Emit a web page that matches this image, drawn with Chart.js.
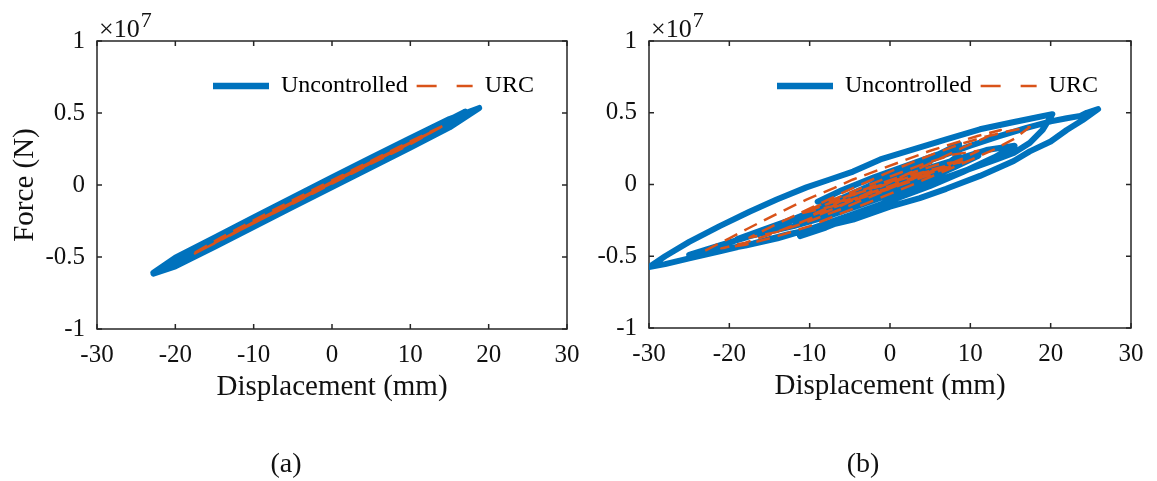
<!DOCTYPE html>
<html><head><meta charset="utf-8">
<script src="https://cdn.jsdelivr.net/npm/chart.js@4.4.1/dist/chart.umd.min.js"></script>
<style>
html,body{margin:0;padding:0;background:#fff;width:1157px;height:481px;overflow:hidden;position:relative;}
canvas{position:absolute;top:0;}
#ca{left:0;} #cb{left:580px;}
.cap{position:absolute;top:446px;font-family:"Liberation Serif";font-size:28px;color:#111;width:100px;text-align:center;line-height:34px;}
</style></head><body>
<canvas id="ca" width="580" height="481"></canvas>
<canvas id="cb" width="577" height="481"></canvas>
<div class="cap" style="left:236px">(a)</div>
<div class="cap" style="left:813px">(b)</div>
<script>
// ---- text / ticks ----
const seriesNames = ['Uncontrolled', 'URC'];
const xTitle = 'Displacement (mm)';
const yTitle = 'Force (N)';
const exponentBase = '\u00D710';
const exponentPower = '7';
const xTicks = [-30, -20, -10, 0, 10, 20, 30];
const xTickLabels = ['-30', '-20', '-10', '0', '10', '20', '30'];
const yTicks = [-1, -0.5, 0, 0.5, 1];
const yTickLabels = ['-1', '-0.5', '0', '0.5', '1'];

// ---- panel (a): displacement (mm) / force (x10^7 N) ----
const aUncX = [-22.8,-20,-15,-10,-5,0,5,10,15,18.8,15,10,5,0,-5,-10,-15,-20,-22.8,
  -20.5,-17,-12,-6,0,6,12,17,12,6,0,-6,-12,-17,-20.5,
  -16,-10,-4,2,8,13,8,2,-4,-10,-16,
  -11,-5,1,6,9,5,0,-6,-11];
const aUncY = [-0.61,-0.505,-0.365,-0.225,-0.087,0.052,0.19,0.325,0.458,0.535,0.40,0.26,0.122,-0.015,-0.152,-0.29,-0.43,-0.565,-0.615,
  -0.55,-0.45,-0.31,-0.145,0.04,0.205,0.37,0.51,0.33,0.165,-0.005,-0.175,-0.34,-0.475,-0.56,
  -0.43,-0.255,-0.09,0.085,0.25,0.385,0.225,0.06,-0.115,-0.28,-0.435,
  -0.29,-0.12,0.05,0.19,0.275,0.15,0.01,-0.15,-0.295];
const aUrcX = [-17.5,-14,-10,-5,0,5,10,14.5,10,5,0,-5,-10,-14,-17.5,
  -15,-10,-5,0,5,10,13,10,5,0,-5,-10,-13,
  -8,-3,2,7,11,6,1,-4,-9,-12,
  -6,0,6,9,4,-2,-7];
const aUrcY = [-0.47,-0.36,-0.245,-0.105,0.033,0.168,0.303,0.42,0.283,0.148,0.01,-0.13,-0.265,-0.375,-0.475,
  -0.405,-0.258,-0.118,0.022,0.16,0.295,0.375,0.29,0.152,0.015,-0.125,-0.262,-0.35,
  -0.205,-0.065,0.075,0.21,0.318,0.182,0.042,-0.098,-0.238,-0.32,
  -0.15,0.02,0.185,0.265,0.125,-0.04,-0.18];

// ---- panel (b) ----
const bUncX = [-11.2,-8,-4,0,4,8,11,13.5,15.4,17.4,19,20.2,
  18.5,15,11.2,7,2.9,-1.2,-4.6,-7.5,-10.4,-14.1,-17.5,-21.2,-25,-28,-30,
  -28,-25,-21.2,-17,-12.9,-8,-4.6,0,3.7,7,11.2,15.4,17.4,20,22,24,25.9,
  24.5,23.7,22,20,17,13.5,10,6,2,-2,-6,-10,-14,-18,-21,-25,
  -22,-18,-14,-10,-5,0,5,9,13,15.5,
  12,8,4,0,-4,-8,-12,-16,-19,
  -16,-12,-8,-4,0,4,8,11,
  8,4,0,-4,-8,-12,
  -10,-6,-2,2,6,8.5,8.6,
  6,2,-2,-6,-9,
  -6,-2,2,5,2,-2,-5];
const bUncY = [-0.36,-0.3,-0.21,-0.11,-0.01,0.07,0.13,0.18,0.22,0.29,0.38,0.49,
  0.47,0.43,0.385,0.315,0.245,0.175,0.09,0.035,-0.02,-0.105,-0.19,-0.29,-0.4,-0.5,-0.575,
  -0.555,-0.515,-0.465,-0.41,-0.35,-0.29,-0.245,-0.155,-0.095,-0.03,0.06,0.164,0.231,0.3,0.38,0.45,0.525,
  0.5,0.478,0.462,0.44,0.395,0.335,0.27,0.19,0.1,0.005,-0.095,-0.195,-0.29,-0.37,-0.42,-0.49,
  -0.465,-0.425,-0.375,-0.31,-0.215,-0.115,-0.01,0.085,0.19,0.27,
  0.24,0.17,0.1,0.02,-0.065,-0.15,-0.24,-0.32,-0.38,
  -0.34,-0.29,-0.225,-0.15,-0.07,0.02,0.12,0.2,
  0.16,0.09,0.01,-0.075,-0.16,-0.25,
  -0.22,-0.155,-0.08,0.0,0.1,0.2,0.28,
  0.21,0.13,0.05,-0.04,-0.12,
  -0.11,-0.04,0.04,0.11,0.07,-0.01,-0.07];
const bUrcX = [-23,-20,-17.8,-14.1,-10.4,-7,-4.6,-1,2.1,5,8.7,11,13.8,
  12,9,6,3,0,-3,-6,-9,-12,-15,-18,-21,
  -18,-14,-10,-6,-2,2,6,10,13,15.5,17.4,
  15,12,9,6,3,0,-3,-6,-9,-12,-15,-17.5,
  -14,-10,-6,-2,2,6,9,11,
  8,4,0,-4,-8,-11,
  -7,-3,1,5,8,6,2,-2,-6,-8,
  -4,0,4,7,4,0,-4,
  -10,-5,0,5,9,5,0,-5,-10];
const bUrcY = [-0.46,-0.375,-0.31,-0.205,-0.105,-0.025,0.035,0.11,0.175,0.235,0.3,0.34,0.38,
  0.33,0.255,0.175,0.095,0.015,-0.065,-0.145,-0.215,-0.285,-0.35,-0.405,-0.445,
  -0.42,-0.36,-0.29,-0.2,-0.11,-0.02,0.075,0.17,0.245,0.32,0.4,
  0.375,0.335,0.285,0.225,0.16,0.09,0.015,-0.06,-0.14,-0.22,-0.3,-0.37,
  -0.33,-0.255,-0.17,-0.075,0.02,0.11,0.18,0.235,
  0.21,0.14,0.055,-0.035,-0.125,-0.2,
  -0.15,-0.07,0.01,0.09,0.155,0.14,0.07,-0.01,-0.095,-0.14,
  -0.09,-0.02,0.06,0.12,0.08,0.01,-0.06,
  -0.22,-0.12,-0.03,0.07,0.16,0.1,0.02,-0.08,-0.18];

// ---- styling ----
const BLUE = '#0072BD', ORANGE = '#D95319', AXIS = '#262626';
const FONT = 'Liberation Serif';
Chart.defaults.font.family = FONT;

const pts = (xs, ys) => xs.map((x, i) => ({x: x, y: ys[i]}));

const framePlugin = {
  id: 'frame',
  afterLayout(chart, args, opts) {
    const lg = chart.legend;
    if (!lg) return;
    const pad = lg.options.labels.padding;
    lg.left = opts.legendX - pad;
    lg.right = chart.width;
    lg.top = opts.legendY - pad - 12;
    lg.bottom = lg.top + 60;
    lg.width = lg.right - lg.left;
    lg.height = 60;
  },
  beforeDatasetsDraw(chart) {
    const {ctx, chartArea: a, scales} = chart;
    const xs = scales.x, ys = scales.y;
    ctx.save();
    ctx.strokeStyle = AXIS;
    ctx.lineWidth = 1.5;
    ctx.strokeRect(a.left, a.top, a.right - a.left, a.bottom - a.top);
    ctx.beginPath();
    const L = 5;
    xs.ticks.forEach(t => {
      const p = xs.getPixelForValue(t.value);
      ctx.moveTo(p, a.bottom); ctx.lineTo(p, a.bottom - L);
      ctx.moveTo(p, a.top); ctx.lineTo(p, a.top + L);
    });
    ys.ticks.forEach(t => {
      const p = ys.getPixelForValue(t.value);
      ctx.moveTo(a.left, p); ctx.lineTo(a.left + L, p);
      ctx.moveTo(a.right, p); ctx.lineTo(a.right - L, p);
    });
    ctx.stroke();
    ctx.fillStyle = '#111';
    ctx.textBaseline = 'alphabetic';
    ctx.textAlign = 'left';
    ctx.font = '26px "' + FONT + '"';
    ctx.fillText(exponentBase, a.left + 2, 37);
    const w = ctx.measureText(exponentBase).width;
    ctx.font = '22px "' + FONT + '"';
    ctx.fillText(exponentPower, a.left + 2 + w + 1, 27);
    ctx.restore();
  }
};

function makeChart(id, uncX, uncY, urcX, urcY, cfg) {
  return new Chart(document.getElementById(id), {
    type: 'scatter',
    data: {
      datasets: [
        {label: seriesNames[0], data: pts(uncX, uncY), showLine: true, borderColor: BLUE, backgroundColor: BLUE,
         borderWidth: 6, pointRadius: 0, pointHoverRadius: 0, pointStyle: 'line', tension: 0,
         borderJoinStyle: 'round', borderCapStyle: 'round', order: 1},
        {label: seriesNames[1], data: pts(urcX, urcY), showLine: true, borderColor: ORANGE, backgroundColor: ORANGE,
         borderWidth: 2.5, borderDash: [14, 8], pointRadius: 0, pointHoverRadius: 0, pointStyle: 'line', tension: 0,
         borderJoinStyle: 'round', borderCapStyle: 'butt', order: 0}
      ]
    },
    options: {
      responsive: false, animation: false, devicePixelRatio: 1, events: [],
      layout: {padding: {left: 0, top: cfg.top - 1, right: cfg.right, bottom: cfg.bottom}},
      plugins: {
        tooltip: {enabled: false},
        frame: {legendX: cfg.legendX, legendY: 86},
        legend: {
          display: true, position: 'top', align: 'start', maxHeight: 1,
          labels: {
            usePointStyle: true, pointStyleWidth: 56, padding: 9, color: '#000',
            font: {family: FONT, size: 24},
            sort: (a, b) => a.datasetIndex - b.datasetIndex,
            generateLabels(chart) {
              const items = Chart.defaults.plugins.legend.labels.generateLabels(chart);
              items.forEach(it => {
                if (it.datasetIndex === 0) { it.lineCap = 'butt'; it.lineWidth = 6.5; }
                else { it.lineDash = [20, 20]; it.lineWidth = 2.5; }
              });
              return items;
            }
          }
        }
      },
      scales: {
        x: {
          type: 'linear', min: -30, max: 30,
          afterBuildTicks: s => { s.ticks = xTicks.map(v => ({value: v})); },
          afterFit: s => { s.height = 76; s.paddingLeft = 0; s.paddingRight = 0; },
          grid: {display: false, drawTicks: false}, border: {display: false},
          ticks: {padding: 11, color: '#111', font: {family: FONT, size: 25},
                  callback: v => { const i = xTicks.indexOf(v); return i < 0 ? '' : xTickLabels[i]; }},
          title: {display: true, text: xTitle, color: '#111', font: {family: FONT, size: 29}, padding: 0}
        },
        y: {
          type: 'linear', min: -1, max: 1,
          afterBuildTicks: s => { s.ticks = yTicks.map(v => ({value: v})); },
          afterFit: s => { s.width = cfg.yWidth; s.paddingTop = 0; s.paddingBottom = 0; },
          grid: {display: false, drawTicks: false}, border: {display: false},
          ticks: {padding: 12, color: '#111', font: {family: FONT, size: 25},
                  callback: v => { const i = yTicks.indexOf(v); return i < 0 ? '' : yTickLabels[i]; }},
          title: {display: cfg.yTitle, text: yTitle, color: '#111', font: {family: FONT, size: 29}, padding: {top: 8, bottom: 0}}
        }
      }
    },
    plugins: [framePlugin]
  });
}

makeChart('ca', aUncX, aUncY, aUrcX, aUrcY, {top: 41, right: 13, bottom: 76, yWidth: 97, legendX: 213, yTitle: true});
makeChart('cb', bUncX, bUncY, bUrcX, bUrcY, {top: 41, right: 26, bottom: 77, yWidth: 69, legendX: 197, yTitle: false});
</script>
</body></html>
